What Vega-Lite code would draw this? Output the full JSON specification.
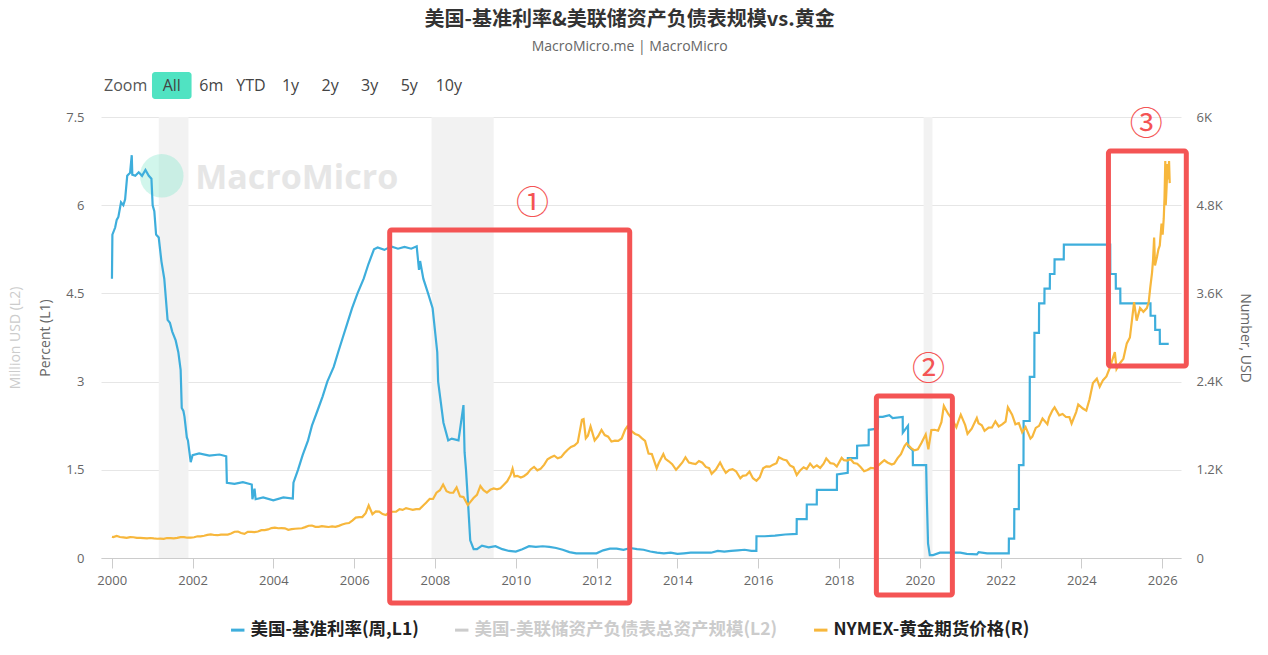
{
  "$schema": "https://vega.github.io/schema/vega-lite/v6.json",
  "padding": {"left": 8, "right": 5, "top": 10, "bottom": 5},
  "title": {
    "text": "美国-基准利率&美联储资产负债表规模vs.黄金",
    "subtitle": "MacroMicro.me | MacroMicro",
    "anchor": "middle",
    "font": "Noto Sans CJK SC",
    "fontSize": 20,
    "fontWeight": "bold",
    "color": "#333333",
    "subtitleFont": "Open Sans",
    "subtitleFontSize": 14,
    "subtitleColor": "#666666",
    "subtitlePadding": 10,
    "offset": 18
  },
  "spacing": 10,
  "config": {
    "view": {"stroke": null},
    "font": "Open Sans",
    "axis": {"labelFont": "Open Sans", "titleFont": "Open Sans"},
    "legend": {"layout": {"bottom": {"anchor": "middle"}}}
  },
  "datasets": {
    "rate": [
      {"d": "2000-01-03", "v": 4.75}, {"d": "2000-01-07", "v": 5.5}, {"d": "2000-02-01", "v": 5.62},
      {"d": "2000-02-15", "v": 5.75}, {"d": "2000-03-01", "v": 5.8}, {"d": "2000-03-25", "v": 6.05},
      {"d": "2000-04-15", "v": 6.0}, {"d": "2000-05-01", "v": 6.1}, {"d": "2000-05-20", "v": 6.5},
      {"d": "2000-06-15", "v": 6.55}, {"d": "2000-06-30", "v": 6.85}, {"d": "2000-07-05", "v": 6.52},
      {"d": "2000-08-01", "v": 6.5}, {"d": "2000-09-01", "v": 6.56}, {"d": "2000-10-01", "v": 6.5},
      {"d": "2000-11-01", "v": 6.6}, {"d": "2000-12-01", "v": 6.5}, {"d": "2000-12-25", "v": 6.45},
      {"d": "2001-01-05", "v": 6.0}, {"d": "2001-01-20", "v": 5.9}, {"d": "2001-02-05", "v": 5.5},
      {"d": "2001-03-01", "v": 5.45}, {"d": "2001-03-25", "v": 5.05}, {"d": "2001-04-20", "v": 4.75},
      {"d": "2001-05-20", "v": 4.05}, {"d": "2001-06-10", "v": 4.0}, {"d": "2001-07-01", "v": 3.85},
      {"d": "2001-08-01", "v": 3.7}, {"d": "2001-08-25", "v": 3.5}, {"d": "2001-09-15", "v": 3.2},
      {"d": "2001-09-25", "v": 2.55}, {"d": "2001-10-10", "v": 2.5}, {"d": "2001-10-20", "v": 2.4},
      {"d": "2001-11-10", "v": 2.05}, {"d": "2001-11-20", "v": 2.0}, {"d": "2001-12-15", "v": 1.63},
      {"d": "2002-01-01", "v": 1.75}, {"d": "2002-03-01", "v": 1.78}, {"d": "2002-06-01", "v": 1.74},
      {"d": "2002-09-01", "v": 1.76}, {"d": "2002-11-01", "v": 1.73}, {"d": "2002-11-07", "v": 1.28},
      {"d": "2003-01-15", "v": 1.26}, {"d": "2003-04-01", "v": 1.29}, {"d": "2003-06-20", "v": 1.25},
      {"d": "2003-06-26", "v": 1.0}, {"d": "2003-07-15", "v": 1.18}, {"d": "2003-07-25", "v": 1.0},
      {"d": "2003-10-01", "v": 1.03}, {"d": "2004-01-01", "v": 0.98}, {"d": "2004-04-01", "v": 1.03},
      {"d": "2004-06-25", "v": 1.01}, {"d": "2004-07-01", "v": 1.28}, {"d": "2004-08-11", "v": 1.5},
      {"d": "2004-09-22", "v": 1.75}, {"d": "2004-11-10", "v": 2.0}, {"d": "2004-12-15", "v": 2.25},
      {"d": "2005-02-02", "v": 2.5}, {"d": "2005-03-22", "v": 2.75}, {"d": "2005-05-03", "v": 3.0},
      {"d": "2005-06-30", "v": 3.25}, {"d": "2005-08-09", "v": 3.5}, {"d": "2005-09-20", "v": 3.75},
      {"d": "2005-11-01", "v": 4.0}, {"d": "2005-12-13", "v": 4.25}, {"d": "2006-01-31", "v": 4.5},
      {"d": "2006-03-28", "v": 4.75}, {"d": "2006-05-10", "v": 5.0}, {"d": "2006-06-29", "v": 5.25},
      {"d": "2006-08-01", "v": 5.28}, {"d": "2006-10-01", "v": 5.24}, {"d": "2006-12-01", "v": 5.3},
      {"d": "2007-02-01", "v": 5.26}, {"d": "2007-04-01", "v": 5.29}, {"d": "2007-06-01", "v": 5.26},
      {"d": "2007-07-20", "v": 5.3}, {"d": "2007-08-10", "v": 4.9}, {"d": "2007-08-20", "v": 5.05},
      {"d": "2007-09-18", "v": 4.75}, {"d": "2007-10-31", "v": 4.5}, {"d": "2007-12-11", "v": 4.25},
      {"d": "2008-01-22", "v": 3.5}, {"d": "2008-01-30", "v": 3.0}, {"d": "2008-03-18", "v": 2.3},
      {"d": "2008-04-30", "v": 2.0}, {"d": "2008-06-01", "v": 2.03}, {"d": "2008-08-01", "v": 2.0},
      {"d": "2008-09-15", "v": 2.6}, {"d": "2008-09-25", "v": 1.8}, {"d": "2008-10-08", "v": 1.5},
      {"d": "2008-10-29", "v": 0.85}, {"d": "2008-11-15", "v": 0.3}, {"d": "2008-12-16", "v": 0.15},
      {"d": "2009-01-15", "v": 0.15}, {"d": "2009-03-01", "v": 0.21}, {"d": "2009-05-01", "v": 0.18},
      {"d": "2009-07-01", "v": 0.2}, {"d": "2009-09-01", "v": 0.15}, {"d": "2009-11-01", "v": 0.12},
      {"d": "2010-01-01", "v": 0.11}, {"d": "2010-03-01", "v": 0.15}, {"d": "2010-05-01", "v": 0.2},
      {"d": "2010-07-01", "v": 0.19}, {"d": "2010-09-01", "v": 0.2}, {"d": "2010-11-01", "v": 0.19},
      {"d": "2011-01-01", "v": 0.17}, {"d": "2011-03-01", "v": 0.14}, {"d": "2011-05-01", "v": 0.1},
      {"d": "2011-07-01", "v": 0.08}, {"d": "2011-09-01", "v": 0.08}, {"d": "2011-11-01", "v": 0.08},
      {"d": "2012-01-01", "v": 0.08}, {"d": "2012-03-01", "v": 0.13}, {"d": "2012-05-01", "v": 0.16},
      {"d": "2012-07-01", "v": 0.16}, {"d": "2012-09-01", "v": 0.14}, {"d": "2012-11-01", "v": 0.17},
      {"d": "2013-01-01", "v": 0.15}, {"d": "2013-03-01", "v": 0.14}, {"d": "2013-05-01", "v": 0.11},
      {"d": "2013-07-01", "v": 0.09}, {"d": "2013-09-01", "v": 0.08}, {"d": "2013-11-01", "v": 0.09},
      {"d": "2014-01-01", "v": 0.07}, {"d": "2014-03-01", "v": 0.08}, {"d": "2014-05-01", "v": 0.09},
      {"d": "2014-07-01", "v": 0.09}, {"d": "2014-09-01", "v": 0.09}, {"d": "2014-11-01", "v": 0.09},
      {"d": "2015-01-01", "v": 0.12}, {"d": "2015-03-01", "v": 0.11}, {"d": "2015-05-01", "v": 0.12},
      {"d": "2015-07-01", "v": 0.13}, {"d": "2015-09-01", "v": 0.14}, {"d": "2015-11-01", "v": 0.12},
      {"d": "2015-12-16", "v": 0.12}, {"d": "2015-12-17", "v": 0.37}, {"d": "2016-03-01", "v": 0.37},
      {"d": "2016-06-01", "v": 0.38}, {"d": "2016-09-01", "v": 0.4}, {"d": "2016-12-14", "v": 0.41},
      {"d": "2016-12-15", "v": 0.66}, {"d": "2017-03-15", "v": 0.66}, {"d": "2017-03-16", "v": 0.91},
      {"d": "2017-06-14", "v": 0.91}, {"d": "2017-06-15", "v": 1.16}, {"d": "2017-12-13", "v": 1.16},
      {"d": "2017-12-14", "v": 1.42}, {"d": "2018-03-21", "v": 1.45}, {"d": "2018-03-22", "v": 1.7},
      {"d": "2018-06-13", "v": 1.7}, {"d": "2018-06-14", "v": 1.91}, {"d": "2018-09-26", "v": 1.92},
      {"d": "2018-09-27", "v": 2.18}, {"d": "2018-12-19", "v": 2.2}, {"d": "2018-12-20", "v": 2.4},
      {"d": "2019-02-01", "v": 2.4}, {"d": "2019-04-01", "v": 2.43}, {"d": "2019-05-01", "v": 2.38},
      {"d": "2019-07-31", "v": 2.4}, {"d": "2019-08-01", "v": 2.13}, {"d": "2019-09-17", "v": 2.25},
      {"d": "2019-09-19", "v": 1.9}, {"d": "2019-10-30", "v": 1.83}, {"d": "2019-10-31", "v": 1.58},
      {"d": "2020-02-28", "v": 1.58}, {"d": "2020-03-04", "v": 1.1}, {"d": "2020-03-16", "v": 0.25},
      {"d": "2020-04-01", "v": 0.05}, {"d": "2020-05-01", "v": 0.05}, {"d": "2020-07-01", "v": 0.09},
      {"d": "2020-10-01", "v": 0.09}, {"d": "2021-01-01", "v": 0.09}, {"d": "2021-03-01", "v": 0.07},
      {"d": "2021-06-01", "v": 0.06}, {"d": "2021-06-17", "v": 0.1}, {"d": "2021-09-01", "v": 0.08},
      {"d": "2021-12-01", "v": 0.08}, {"d": "2022-03-16", "v": 0.08}, {"d": "2022-03-17", "v": 0.33},
      {"d": "2022-05-04", "v": 0.33}, {"d": "2022-05-05", "v": 0.83}, {"d": "2022-06-15", "v": 0.83},
      {"d": "2022-06-16", "v": 1.58}, {"d": "2022-07-27", "v": 1.58}, {"d": "2022-07-28", "v": 2.33},
      {"d": "2022-09-21", "v": 2.33}, {"d": "2022-09-22", "v": 3.08}, {"d": "2022-11-02", "v": 3.08},
      {"d": "2022-11-03", "v": 3.83}, {"d": "2022-12-14", "v": 3.83}, {"d": "2022-12-15", "v": 4.33},
      {"d": "2023-02-01", "v": 4.33}, {"d": "2023-02-02", "v": 4.58}, {"d": "2023-03-22", "v": 4.58},
      {"d": "2023-03-23", "v": 4.83}, {"d": "2023-05-03", "v": 4.83}, {"d": "2023-05-04", "v": 5.08},
      {"d": "2023-07-26", "v": 5.08}, {"d": "2023-07-27", "v": 5.33}, {"d": "2024-09-18", "v": 5.33},
      {"d": "2024-09-19", "v": 4.83}, {"d": "2024-11-07", "v": 4.83}, {"d": "2024-11-08", "v": 4.58},
      {"d": "2024-12-18", "v": 4.58}, {"d": "2024-12-19", "v": 4.33}, {"d": "2025-09-17", "v": 4.33},
      {"d": "2025-09-18", "v": 4.12}, {"d": "2025-10-29", "v": 4.12}, {"d": "2025-10-30", "v": 3.88},
      {"d": "2025-12-10", "v": 3.88}, {"d": "2025-12-11", "v": 3.64}, {"d": "2026-03-01", "v": 3.64}
    ],
    "gold": [
      {"d": "2000-01-03", "v": 289}, {"d": "2000-01-15", "v": 284}, {"d": "2000-02-15", "v": 300},
      {"d": "2000-03-15", "v": 286}, {"d": "2000-04-15", "v": 280}, {"d": "2000-05-15", "v": 275},
      {"d": "2000-06-15", "v": 285}, {"d": "2000-07-15", "v": 282}, {"d": "2000-08-15", "v": 274},
      {"d": "2000-09-15", "v": 273}, {"d": "2000-10-15", "v": 270}, {"d": "2000-11-15", "v": 266},
      {"d": "2000-12-15", "v": 272}, {"d": "2001-01-15", "v": 266}, {"d": "2001-02-15", "v": 262},
      {"d": "2001-03-15", "v": 263}, {"d": "2001-04-15", "v": 261}, {"d": "2001-05-15", "v": 272},
      {"d": "2001-06-15", "v": 270}, {"d": "2001-07-15", "v": 268}, {"d": "2001-08-15", "v": 273},
      {"d": "2001-09-15", "v": 283}, {"d": "2001-10-15", "v": 283}, {"d": "2001-11-15", "v": 276},
      {"d": "2001-12-15", "v": 276}, {"d": "2002-01-15", "v": 282}, {"d": "2002-02-15", "v": 296},
      {"d": "2002-03-15", "v": 294}, {"d": "2002-04-15", "v": 303}, {"d": "2002-05-15", "v": 314},
      {"d": "2002-06-15", "v": 321}, {"d": "2002-07-15", "v": 313}, {"d": "2002-08-15", "v": 310},
      {"d": "2002-09-15", "v": 319}, {"d": "2002-10-15", "v": 317}, {"d": "2002-11-15", "v": 319},
      {"d": "2002-12-15", "v": 333}, {"d": "2003-01-15", "v": 357}, {"d": "2003-02-15", "v": 359},
      {"d": "2003-03-15", "v": 340}, {"d": "2003-04-15", "v": 328}, {"d": "2003-05-15", "v": 355},
      {"d": "2003-06-15", "v": 356}, {"d": "2003-07-15", "v": 351}, {"d": "2003-08-15", "v": 360},
      {"d": "2003-09-15", "v": 379}, {"d": "2003-10-15", "v": 379}, {"d": "2003-11-15", "v": 389},
      {"d": "2003-12-15", "v": 407}, {"d": "2004-01-15", "v": 414}, {"d": "2004-02-15", "v": 405},
      {"d": "2004-03-15", "v": 406}, {"d": "2004-04-15", "v": 404}, {"d": "2004-05-15", "v": 384},
      {"d": "2004-06-15", "v": 392}, {"d": "2004-07-15", "v": 398}, {"d": "2004-08-15", "v": 401},
      {"d": "2004-09-15", "v": 405}, {"d": "2004-10-15", "v": 420}, {"d": "2004-11-15", "v": 439},
      {"d": "2004-12-15", "v": 442}, {"d": "2005-01-15", "v": 424}, {"d": "2005-02-15", "v": 423},
      {"d": "2005-03-15", "v": 434}, {"d": "2005-04-15", "v": 428}, {"d": "2005-05-15", "v": 422},
      {"d": "2005-06-15", "v": 430}, {"d": "2005-07-15", "v": 424}, {"d": "2005-08-15", "v": 437},
      {"d": "2005-09-15", "v": 456}, {"d": "2005-10-15", "v": 470}, {"d": "2005-11-15", "v": 476},
      {"d": "2005-12-15", "v": 510}, {"d": "2006-01-15", "v": 549}, {"d": "2006-02-15", "v": 555},
      {"d": "2006-03-15", "v": 557}, {"d": "2006-04-15", "v": 610}, {"d": "2006-05-12", "v": 715},
      {"d": "2006-06-15", "v": 596}, {"d": "2006-07-15", "v": 633}, {"d": "2006-08-15", "v": 632},
      {"d": "2006-09-15", "v": 598}, {"d": "2006-10-15", "v": 585}, {"d": "2006-11-15", "v": 627},
      {"d": "2006-12-15", "v": 629}, {"d": "2007-01-15", "v": 631}, {"d": "2007-02-15", "v": 664},
      {"d": "2007-03-15", "v": 655}, {"d": "2007-04-15", "v": 679}, {"d": "2007-05-15", "v": 667},
      {"d": "2007-06-15", "v": 655}, {"d": "2007-07-15", "v": 665}, {"d": "2007-08-15", "v": 665},
      {"d": "2007-09-15", "v": 712}, {"d": "2007-10-15", "v": 754}, {"d": "2007-11-15", "v": 806},
      {"d": "2007-12-15", "v": 803}, {"d": "2008-01-15", "v": 889}, {"d": "2008-02-15", "v": 922},
      {"d": "2008-03-15", "v": 1000}, {"d": "2008-04-15", "v": 909}, {"d": "2008-05-15", "v": 888},
      {"d": "2008-06-15", "v": 889}, {"d": "2008-07-15", "v": 960}, {"d": "2008-08-15", "v": 839},
      {"d": "2008-09-15", "v": 829}, {"d": "2008-10-24", "v": 720}, {"d": "2008-11-15", "v": 760},
      {"d": "2008-12-15", "v": 816}, {"d": "2009-01-15", "v": 858}, {"d": "2009-02-15", "v": 980},
      {"d": "2009-03-15", "v": 924}, {"d": "2009-04-15", "v": 890}, {"d": "2009-05-15", "v": 928},
      {"d": "2009-06-15", "v": 946}, {"d": "2009-07-15", "v": 934}, {"d": "2009-08-15", "v": 949},
      {"d": "2009-09-15", "v": 996}, {"d": "2009-10-15", "v": 1043}, {"d": "2009-11-15", "v": 1127},
      {"d": "2009-12-03", "v": 1215}, {"d": "2009-12-20", "v": 1110}, {"d": "2010-01-15", "v": 1118},
      {"d": "2010-02-15", "v": 1095}, {"d": "2010-03-15", "v": 1113}, {"d": "2010-04-15", "v": 1148},
      {"d": "2010-05-15", "v": 1205}, {"d": "2010-06-15", "v": 1240}, {"d": "2010-07-15", "v": 1193},
      {"d": "2010-08-15", "v": 1215}, {"d": "2010-09-15", "v": 1271}, {"d": "2010-10-15", "v": 1343},
      {"d": "2010-11-15", "v": 1370}, {"d": "2010-12-15", "v": 1392}, {"d": "2011-01-15", "v": 1356},
      {"d": "2011-02-15", "v": 1372}, {"d": "2011-03-15", "v": 1424}, {"d": "2011-04-15", "v": 1473},
      {"d": "2011-05-15", "v": 1510}, {"d": "2011-06-15", "v": 1529}, {"d": "2011-07-15", "v": 1572},
      {"d": "2011-08-22", "v": 1880}, {"d": "2011-09-06", "v": 1890}, {"d": "2011-09-26", "v": 1630},
      {"d": "2011-10-15", "v": 1665}, {"d": "2011-11-08", "v": 1790}, {"d": "2011-12-15", "v": 1600},
      {"d": "2012-01-15", "v": 1656}, {"d": "2012-02-15", "v": 1742}, {"d": "2012-03-15", "v": 1673},
      {"d": "2012-04-15", "v": 1650}, {"d": "2012-05-15", "v": 1585}, {"d": "2012-06-15", "v": 1596},
      {"d": "2012-07-15", "v": 1593}, {"d": "2012-08-15", "v": 1626}, {"d": "2012-09-15", "v": 1744},
      {"d": "2012-10-05", "v": 1790}, {"d": "2012-11-15", "v": 1721}, {"d": "2012-12-15", "v": 1688},
      {"d": "2013-01-15", "v": 1671}, {"d": "2013-02-15", "v": 1627}, {"d": "2013-03-15", "v": 1593},
      {"d": "2013-04-15", "v": 1420}, {"d": "2013-05-15", "v": 1414}, {"d": "2013-06-28", "v": 1220},
      {"d": "2013-07-15", "v": 1285}, {"d": "2013-08-27", "v": 1415}, {"d": "2013-09-15", "v": 1349},
      {"d": "2013-10-15", "v": 1316}, {"d": "2013-11-15", "v": 1276}, {"d": "2013-12-20", "v": 1200},
      {"d": "2014-01-15", "v": 1244}, {"d": "2014-02-15", "v": 1300}, {"d": "2014-03-15", "v": 1370},
      {"d": "2014-04-15", "v": 1299}, {"d": "2014-05-15", "v": 1287}, {"d": "2014-06-15", "v": 1279},
      {"d": "2014-07-15", "v": 1320}, {"d": "2014-08-15", "v": 1296}, {"d": "2014-09-15", "v": 1239},
      {"d": "2014-10-15", "v": 1222}, {"d": "2014-11-07", "v": 1145}, {"d": "2014-12-15", "v": 1202},
      {"d": "2015-01-22", "v": 1300}, {"d": "2015-02-15", "v": 1227}, {"d": "2015-03-15", "v": 1160},
      {"d": "2015-04-15", "v": 1198}, {"d": "2015-05-15", "v": 1210}, {"d": "2015-06-15", "v": 1181},
      {"d": "2015-07-24", "v": 1085}, {"d": "2015-08-15", "v": 1117}, {"d": "2015-09-15", "v": 1125},
      {"d": "2015-10-15", "v": 1175}, {"d": "2015-11-15", "v": 1086}, {"d": "2015-12-17", "v": 1050},
      {"d": "2016-01-15", "v": 1097}, {"d": "2016-02-15", "v": 1220}, {"d": "2016-03-15", "v": 1246},
      {"d": "2016-04-15", "v": 1242}, {"d": "2016-05-15", "v": 1270}, {"d": "2016-06-15", "v": 1290},
      {"d": "2016-07-06", "v": 1370}, {"d": "2016-08-15", "v": 1341}, {"d": "2016-09-15", "v": 1326},
      {"d": "2016-10-15", "v": 1260}, {"d": "2016-11-15", "v": 1236}, {"d": "2016-12-15", "v": 1130},
      {"d": "2017-01-15", "v": 1192}, {"d": "2017-02-15", "v": 1234}, {"d": "2017-03-15", "v": 1210},
      {"d": "2017-04-15", "v": 1285}, {"d": "2017-05-15", "v": 1230}, {"d": "2017-06-15", "v": 1260},
      {"d": "2017-07-15", "v": 1225}, {"d": "2017-08-15", "v": 1283}, {"d": "2017-09-08", "v": 1355},
      {"d": "2017-10-15", "v": 1290}, {"d": "2017-11-15", "v": 1283}, {"d": "2017-12-12", "v": 1245},
      {"d": "2018-01-25", "v": 1362}, {"d": "2018-02-15", "v": 1331}, {"d": "2018-03-15", "v": 1325},
      {"d": "2018-04-15", "v": 1345}, {"d": "2018-05-15", "v": 1292}, {"d": "2018-06-15", "v": 1282},
      {"d": "2018-07-15", "v": 1238}, {"d": "2018-08-16", "v": 1180}, {"d": "2018-09-15", "v": 1198},
      {"d": "2018-10-15", "v": 1225}, {"d": "2018-11-15", "v": 1221}, {"d": "2018-12-15", "v": 1250},
      {"d": "2019-01-15", "v": 1291}, {"d": "2019-02-15", "v": 1330}, {"d": "2019-03-15", "v": 1300},
      {"d": "2019-04-23", "v": 1272}, {"d": "2019-05-15", "v": 1284}, {"d": "2019-06-15", "v": 1359},
      {"d": "2019-07-15", "v": 1413}, {"d": "2019-08-15", "v": 1520}, {"d": "2019-09-04", "v": 1560},
      {"d": "2019-10-15", "v": 1495}, {"d": "2019-11-15", "v": 1465}, {"d": "2019-12-15", "v": 1480},
      {"d": "2020-01-15", "v": 1560}, {"d": "2020-02-24", "v": 1680}, {"d": "2020-03-19", "v": 1480},
      {"d": "2020-04-15", "v": 1740}, {"d": "2020-05-15", "v": 1745}, {"d": "2020-06-15", "v": 1732},
      {"d": "2020-07-15", "v": 1847}, {"d": "2020-08-06", "v": 2070}, {"d": "2020-09-15", "v": 1960},
      {"d": "2020-10-15", "v": 1900}, {"d": "2020-11-27", "v": 1780}, {"d": "2020-12-15", "v": 1858},
      {"d": "2021-01-06", "v": 1950}, {"d": "2021-02-15", "v": 1808}, {"d": "2021-03-08", "v": 1690},
      {"d": "2021-04-15", "v": 1760}, {"d": "2021-05-31", "v": 1905}, {"d": "2021-06-15", "v": 1834},
      {"d": "2021-07-15", "v": 1807}, {"d": "2021-08-09", "v": 1730}, {"d": "2021-09-15", "v": 1775},
      {"d": "2021-10-15", "v": 1776}, {"d": "2021-11-15", "v": 1860}, {"d": "2021-12-15", "v": 1790},
      {"d": "2022-01-15", "v": 1817}, {"d": "2022-02-15", "v": 1856}, {"d": "2022-03-08", "v": 2050},
      {"d": "2022-04-15", "v": 1950}, {"d": "2022-05-15", "v": 1820}, {"d": "2022-06-15", "v": 1836},
      {"d": "2022-07-15", "v": 1710}, {"d": "2022-08-15", "v": 1780}, {"d": "2022-09-28", "v": 1625},
      {"d": "2022-10-15", "v": 1650}, {"d": "2022-11-15", "v": 1770}, {"d": "2022-12-15", "v": 1798},
      {"d": "2023-01-15", "v": 1898}, {"d": "2023-02-28", "v": 1820}, {"d": "2023-03-15", "v": 1912},
      {"d": "2023-04-15", "v": 2010}, {"d": "2023-05-04", "v": 2050}, {"d": "2023-06-15", "v": 1942},
      {"d": "2023-07-15", "v": 1960}, {"d": "2023-08-15", "v": 1918}, {"d": "2023-09-15", "v": 1916},
      {"d": "2023-10-05", "v": 1830}, {"d": "2023-11-15", "v": 1985}, {"d": "2023-12-04", "v": 2090},
      {"d": "2024-01-15", "v": 2034}, {"d": "2024-02-15", "v": 2005}, {"d": "2024-03-15", "v": 2160},
      {"d": "2024-04-15", "v": 2380}, {"d": "2024-05-20", "v": 2440}, {"d": "2024-06-15", "v": 2330},
      {"d": "2024-07-15", "v": 2420}, {"d": "2024-08-15", "v": 2470}, {"d": "2024-09-15", "v": 2590},
      {"d": "2024-10-30", "v": 2800}, {"d": "2024-11-14", "v": 2570}, {"d": "2024-12-15", "v": 2650},
      {"d": "2025-01-15", "v": 2710}, {"d": "2025-02-15", "v": 2920}, {"d": "2025-03-15", "v": 3000},
      {"d": "2025-04-22", "v": 3480}, {"d": "2025-05-15", "v": 3230}, {"d": "2025-06-15", "v": 3400},
      {"d": "2025-07-15", "v": 3350}, {"d": "2025-08-15", "v": 3400}, {"d": "2025-09-01", "v": 3480},
      {"d": "2025-09-15", "v": 3680}, {"d": "2025-10-01", "v": 3880}, {"d": "2025-10-10", "v": 4050},
      {"d": "2025-10-20", "v": 4360}, {"d": "2025-10-28", "v": 3980}, {"d": "2025-11-15", "v": 4100},
      {"d": "2025-11-28", "v": 4200}, {"d": "2025-12-10", "v": 4250}, {"d": "2025-12-26", "v": 4550},
      {"d": "2026-01-05", "v": 4400}, {"d": "2026-01-15", "v": 4620}, {"d": "2026-01-22", "v": 4900},
      {"d": "2026-01-29", "v": 5400}, {"d": "2026-02-02", "v": 4800}, {"d": "2026-02-10", "v": 5050},
      {"d": "2026-02-18", "v": 5360}, {"d": "2026-02-25", "v": 5150}, {"d": "2026-03-04", "v": 5400},
      {"d": "2026-03-10", "v": 5100}
    ]
  },
  "vconcat": [
    {
      "width": 379,
      "height": 27,
      "data": {
        "values": [
          {"b": "Zoom"}, {"b": "All"}, {"b": "6m"}, {"b": "YTD"}, {"b": "1y"},
          {"b": "2y"}, {"b": "3y"}, {"b": "5y"}, {"b": "10y"}
        ]
      },
      "encoding": {
        "x": {
          "field": "b",
          "type": "nominal",
          "axis": null,
          "scale": {
            "type": "band",
            "domain": ["Zoom", "All", "6m", "YTD", "1y", "2y", "3y", "5y", "10y"],
            "paddingInner": 0,
            "paddingOuter": 0.288
          }
        }
      },
      "layer": [
        {
          "transform": [{"filter": "datum.b == 'All'"}],
          "mark": {"type": "rect", "color": "#50e3c2", "cornerRadius": 3}
        },
        {
          "transform": [{"filter": "datum.b != 'Zoom'"}],
          "mark": {"type": "text", "fontSize": 16, "color": "#444444", "font": "Open Sans"},
          "encoding": {"text": {"field": "b"}}
        },
        {
          "transform": [{"filter": "datum.b == 'Zoom'"}],
          "mark": {"type": "text", "fontSize": 16, "color": "#555555", "font": "Open Sans", "align": "right", "dx": 15},
          "encoding": {"text": {"field": "b"}}
        }
      ]
    },
    {
      "width": 1080,
      "height": 441,
      "encoding": {
        "x": {
          "field": "d",
          "type": "temporal",
          "scale": {"domain": [{"year": 1999, "month": 9, "date": 26}, {"year": 2026, "month": 6, "date": 20}]},
          "axis": {
            "values": [
              {"year": 2000}, {"year": 2002}, {"year": 2004}, {"year": 2006}, {"year": 2008},
              {"year": 2010}, {"year": 2012}, {"year": 2014}, {"year": 2016}, {"year": 2018},
              {"year": 2020}, {"year": 2022}, {"year": 2024}, {"year": 2026}
            ],
            "format": "%Y",
            "title": null,
            "grid": false,
            "domainColor": "#cccccc",
            "tickColor": "#cccccc",
            "tickSize": 10,
            "labelColor": "#666666",
            "labelFontSize": 13,
            "labelPadding": 6
          }
        }
      },
      "layer": [
        {
          "layer": [
            {
              "data": {
                "values": [
                  {"s": "2001-03-01", "e": "2001-11-25"},
                  {"s": "2007-12-01", "e": "2009-06-15"},
                  {"s": "2020-02-05", "e": "2020-04-25"}
                ]
              },
              "mark": {"type": "rect", "color": "#f2f2f2"},
              "encoding": {"x": {"field": "s", "type": "temporal"}, "x2": {"field": "e"}}
            },
            {
              "data": {"values": [{"d": "2001-03-28", "v": 6.5}]},
              "mark": {"type": "point", "filled": true, "size": 1900, "color": "#8ce8d0", "opacity": 0.4},
              "encoding": {"y": {"field": "v", "type": "quantitative"}}
            },
            {
              "data": {"values": [{"d": "2002-01-25", "v": 6.45, "t": "MacroMicro"}]},
              "mark": {"type": "text", "align": "left", "baseline": "middle", "fontSize": 34, "fontWeight": "bold", "font": "Open Sans", "color": "#e6e6e6"},
              "encoding": {"y": {"field": "v", "type": "quantitative"}, "text": {"field": "t"}}
            },
            {
              "data": {"name": "rate"},
              "mark": {"type": "line", "strokeWidth": 2.2, "interpolate": "linear"},
              "encoding": {
                "y": {"field": "v", "type": "quantitative"},
                "color": {
                  "datum": "美国-基准利率(周,L1)",
                  "type": "nominal",
                  "scale": {
                    "domain": ["美国-基准利率(周,L1)", "美国-美联储资产负债表总资产规模(L2)", "NYMEX-黄金期货价格(R)"],
                    "range": ["#3eaedc", "#cccccc", "#f7b73c"]
                  },
                  "legend": {
                    "title": null,
                    "orient": "bottom",
                    "direction": "horizontal",
                    "symbolType": "stroke",
                    "symbolStrokeWidth": 3,
                    "symbolSize": 180,
                    "labelFont": "Noto Sans CJK SC",
                    "labelFontSize": 17.5,
                    "labelFontWeight": "bold",
                    "labelColor": "#222222",
                    "labelLimit": 500,
                    "columnPadding": 30,
                    "offset": 15,
                    "encode": {
                      "labels": {
                        "update": {
                          "fill": {"signal": "datum.label == '美国-美联储资产负债表总资产规模(L2)' ? '#cccccc' : '#222222'"}
                        }
                      }
                    }
                  }
                }
              }
            }
          ],
          "encoding": {
            "y": {
              "scale": {"domain": [0, 7.5]},
              "axis": {
                "orient": "left",
                "values": [0, 1.5, 3, 4.5, 6, 7.5],
                "labelExpr": "format(datum.value, '.1~f')",
                "title": "Percent (L1)",
                "titleColor": "#666666",
                "titleFontSize": 14,
                "titleFontWeight": "normal",
                "titlePadding": 13,
                "grid": true,
                "gridColor": "#e6e6e6",
                "domain": false,
                "ticks": false,
                "labelColor": "#666666",
                "labelFontSize": 13,
                "labelPadding": 17
              }
            }
          }
        },
        {
          "data": {"name": "rate"},
          "mark": {"type": "line", "opacity": 0},
          "encoding": {
            "y": {
              "field": "v",
              "type": "quantitative",
              "axis": {
                "orient": "left",
                "title": "Million USD (L2)",
                "titleColor": "#cccccc",
                "titleFontSize": 14,
                "titleFontWeight": "normal",
                "titlePadding": 4,
                "labels": false,
                "ticks": false,
                "domain": false,
                "grid": false,
                "offset": 75
              }
            }
          }
        },
        {
          "data": {"name": "gold"},
          "mark": {"type": "line", "strokeWidth": 2.2},
          "encoding": {
            "y": {
              "field": "v",
              "type": "quantitative",
              "scale": {"domain": [0, 6000]},
              "axis": {
                "orient": "right",
                "values": [0, 1200, 2400, 3600, 4800, 6000],
                "labelExpr": "datum.value == 0 ? '0' : format(datum.value / 1000, '~g') + 'K'",
                "title": "Number, USD",
                "titleColor": "#666666",
                "titleFontSize": 14,
                "titleFontWeight": "normal",
                "titlePadding": 15,
                "grid": false,
                "domain": false,
                "ticks": false,
                "labelColor": "#666666",
                "labelFontSize": 13,
                "labelPadding": 15
              }
            },
            "color": {"datum": "NYMEX-黄金期货价格(R)", "type": "nominal"}
          }
        },
        {
          "layer": [
            {
              "data": {
                "values": [
                  {"d": "2006-11-18", "e": "2012-10-27", "lo": -0.765, "hi": 5.58},
                  {"d": "2018-12-05", "e": "2020-10-22", "lo": -0.63, "hi": 2.755},
                  {"d": "2024-09-02", "e": "2026-08-07", "lo": 3.265, "hi": 6.92}
                ]
              },
              "mark": {"type": "rect", "filled": false, "color": "#f45454", "strokeWidth": 5, "cornerRadius": 2, "clip": false},
              "encoding": {
                "x2": {"field": "e"},
                "y": {"field": "lo", "type": "quantitative"},
                "y2": {"field": "hi"}
              }
            },
            {
              "data": {
                "values": [
                  {"d": "2010-06-01", "v": 6.02, "t": "①"},
                  {"d": "2020-03-20", "v": 3.2, "t": "②"},
                  {"d": "2025-08-10", "v": 7.36, "t": "③"}
                ]
              },
              "mark": {"type": "text", "font": "Noto Sans CJK SC", "fontSize": 33, "color": "#f45454", "baseline": "middle", "clip": false},
              "encoding": {
                "y": {"field": "v", "type": "quantitative"},
                "text": {"field": "t"}
              }
            }
          ],
          "encoding": {
            "y": {"scale": {"domain": [0, 7.5]}, "axis": null}
          }
        }
      ],
      "resolve": {"scale": {"y": "independent"}}
    }
  ]
}
